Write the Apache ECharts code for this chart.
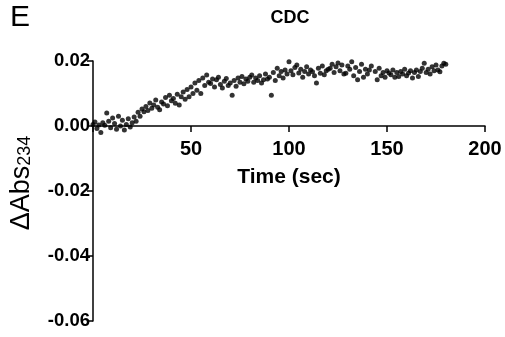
<!DOCTYPE html>
<html><head><meta charset="utf-8">
<script src="https://cdn.jsdelivr.net/npm/echarts@6/dist/echarts.min.js"></script>
<style>html,body{margin:0;padding:0;background:#fff}#c{width:505px;height:337px}</style>
</head><body><div id="c"></div>
<script>
const timeSec = [];
for (let i = 0; i <= 180; i++) timeSec.push(i);
const dAbs = [
0.0005,0.0012,-0.0008,0.0003,-0.0020,0.0010,0.0002,0.0040,0.0015,-0.0005,
0.0025,0.0008,-0.0010,0.0030,0.0000,0.0018,-0.0012,0.0005,0.0022,-0.0003,
0.0010,0.0028,0.0015,0.0042,0.0030,0.0052,0.0044,0.0060,0.0048,0.0071,
0.0055,0.0065,0.0080,0.0058,0.0050,0.0074,0.0068,0.0088,0.0062,0.0095,
0.0078,0.0085,0.0070,0.0098,0.0065,0.0090,0.0105,0.0082,0.0112,0.0090,
0.0120,0.0100,0.0132,0.0110,0.0140,0.0100,0.0148,0.0125,0.0157,0.0135,
0.0131,0.0145,0.0120,0.0142,0.0150,0.0128,0.0117,0.0138,0.0146,0.0125,
0.0132,0.0095,0.0140,0.0122,0.0148,0.0135,0.0152,0.0130,0.0145,0.0138,
0.0150,0.0157,0.0135,0.0148,0.0140,0.0155,0.0132,0.0142,0.0160,0.0145,
0.0150,0.0095,0.0165,0.0140,0.0178,0.0155,0.0168,0.0148,0.0172,0.0160,
0.0198,0.0170,0.0158,0.0180,0.0188,0.0163,0.0175,0.0150,0.0168,0.0182,
0.0160,0.0172,0.0167,0.0155,0.0132,0.0178,0.0162,0.0185,0.0158,0.0170,
0.0175,0.0178,0.0190,0.0165,0.0182,0.0194,0.0170,0.0188,0.0160,0.0162,
0.0185,0.0175,0.0198,0.0155,0.0180,0.0142,0.0168,0.0190,0.0150,0.0175,
0.0160,0.0172,0.0185,0.0203,0.0168,0.0142,0.0178,0.0155,0.0165,0.0150,
0.0170,0.0163,0.0158,0.0172,0.0150,0.0165,0.0152,0.0168,0.0160,0.0175,
0.0155,0.0163,0.0170,0.0148,0.0165,0.0172,0.0152,0.0168,0.0178,0.0193,
0.0165,0.0175,0.0160,0.0182,0.0170,0.0188,0.0172,0.0167,0.0185,0.0193,
0.0190
];
const xTicks = [0, 50, 100, 150, 200];
const yTicks = [-0.06, -0.04, -0.02, 0.00, 0.02];
const titleText = 'CDC';
const panelLetter = 'E';
const xName = 'Time (sec)';

const chart = echarts.init(document.getElementById('c'), null, {renderer: 'canvas'});
const FONT = '"Liberation Sans", Arial, Helvetica, sans-serif';
const GRID_TOP = 61, GRID_BOTTOM = 16, H = 337;
const plotH = H - GRID_TOP - GRID_BOTTOM;
const yMin = yTicks[0], yMax = yTicks[yTicks.length - 1];
// distance from grid bottom up to the y = 0 line, derived from the y-axis scale
const zeroOffset = -plotH * (0 - yMin) / (yMax - yMin);
chart.setOption({
  animation: false,
  backgroundColor: '#fff',
  title: {text: titleText, left: 285, top: 4, textAlign: 'center',
    textStyle: {fontFamily: FONT, fontWeight: 'bold', fontSize: 18, color: '#000'}},
  graphic: [
    {type: 'text', left: 10, top: 3, style: {text: panelLetter, font: '30px ' + FONT, fill: '#000'}},
    {type: 'text', x: 8, y: 183, rotation: Math.PI / 2,
      style: {
        text: '{a|ΔAbs}{s|234}',
        align: 'center', verticalAlign: 'top',
        rich: {
          a: {fontFamily: FONT, fontSize: 27, fontWeight: 'normal', color: '#000'},
          s: {fontFamily: FONT, fontSize: 18, color: '#000', padding: [8, 0, 0, 0]}
        }
      }}
  ],
  grid: {left: 93, right: 20, top: GRID_TOP, bottom: GRID_BOTTOM, containLabel: false, outerBoundsMode: 'none'},
  xAxis: {
    type: 'value', min: xTicks[0], max: xTicks[xTicks.length - 1], interval: 50,
    position: 'bottom', offset: zeroOffset,
    name: xName, nameLocation: 'middle', nameGap: 41,
    nameTextStyle: {fontFamily: FONT, fontWeight: 'bold', fontSize: 21, color: '#000'},
    axisLine: {onZero: false, lineStyle: {color: '#000', width: 1.5}},
    axisTick: {show: true, length: 6, lineStyle: {color: '#000', width: 1.5}},
    axisLabel: {fontFamily: FONT, fontWeight: 'bold', fontSize: 20, color: '#000', margin: 13,
      formatter: v => (v === 0 ? '' : String(v))},
    splitLine: {show: false}
  },
  yAxis: {
    type: 'value', min: yMin, max: yMax, interval: 0.02,
    axisLine: {show: true, lineStyle: {color: '#000', width: 1.5}},
    axisTick: {show: true, length: 6, lineStyle: {color: '#000', width: 1.5}},
    axisLabel: {fontFamily: FONT, fontWeight: 'bold', fontSize: 18.5, color: '#000', margin: 3,
      formatter: v => v.toFixed(2)},
    splitLine: {show: false}
  },
  series: [{
    type: 'scatter', symbol: 'circle', symbolSize: 5,
    itemStyle: {color: '#000'},
    data: timeSec.map((t, i) => [t, dAbs[i]])
  }]
});
</script></body></html>
